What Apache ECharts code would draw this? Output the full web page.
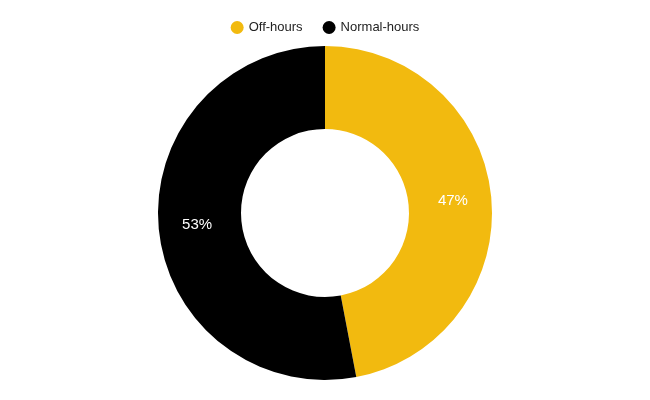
<!DOCTYPE html>
<html><head><meta charset="utf-8">
<script src="https://cdn.jsdelivr.net/npm/echarts@6/dist/echarts.min.js"></script>
<style>html,body{margin:0;padding:0;background:#fff}#c{width:650px;height:400px}</style>
</head><body><div id="c"></div>
<script>
const categories = ['Off-hours', 'Normal-hours'];
const values = [47, 53];
const colors = ['#F2BA0F', '#000000'];
const chart = echarts.init(document.getElementById('c'));
chart.setOption({
  animation: false,
  color: colors,
  legend: {
    top: 16, left: 'center', icon: 'circle', itemWidth: 13, itemHeight: 13, itemGap: 20,
    textStyle: { fontFamily: 'Liberation Sans, Arial, sans-serif', fontSize: 13, color: '#222' },
    data: categories
  },
  series: [{
    type: 'pie',
    center: ['50%', 213],
    radius: ['42%', '83.5%'],
    startAngle: 90,
    clockwise: true,
    label: { show: true, position: 'inside', formatter: '{c}%', color: '#fff', fontSize: 15,
      fontFamily: 'Liberation Sans, Arial, sans-serif' },
    labelLine: { show: false },
    itemStyle: { borderWidth: 0 },
    emphasis: { disabled: true },
    data: categories.map((n, i) => ({ name: n, value: values[i] }))
  }]
});
</script></body></html>
